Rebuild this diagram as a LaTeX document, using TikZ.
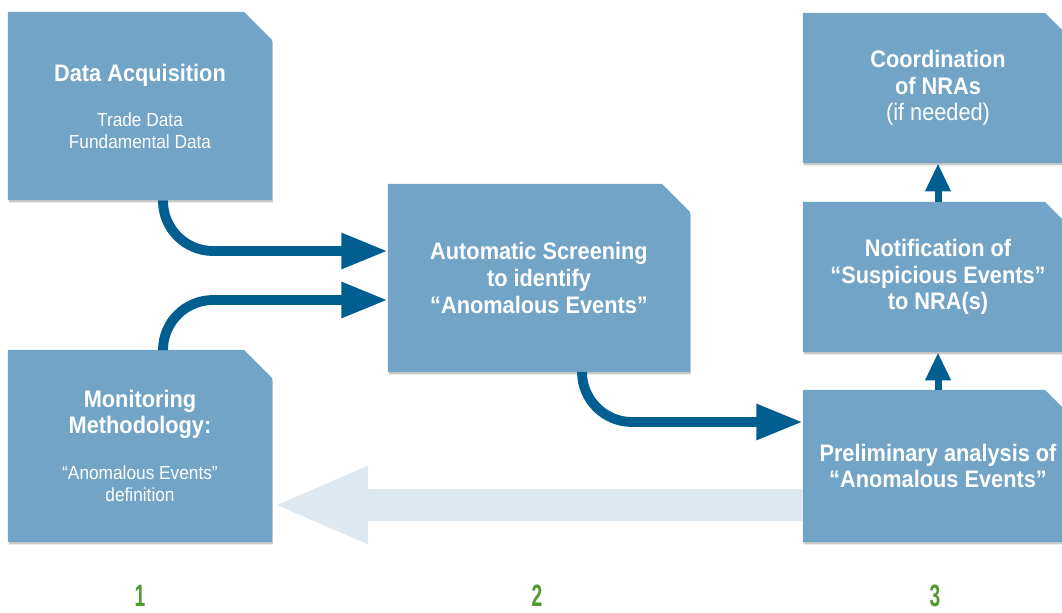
\documentclass[tikz,border=0pt]{standalone}
\usepackage{fontspec}
\setmainfont{Liberation Sans}[FakeStretch=0.91]
\newfontfamily\numfont{Liberation Sans}[FakeStretch=0.62]
\usetikzlibrary{calc}
\usetikzlibrary{shapes.misc}
\usetikzlibrary{shadows}
\usetikzlibrary{arrows.meta}

\definecolor{boxblue}{RGB}{113,164,198}
\definecolor{darkblue}{RGB}{0,94,145}
\definecolor{paleblue}{RGB}{222,232,241}
\definecolor{stepgreen}{RGB}{78,154,46}

\newcommand{\sub}[1]{{\fontsize{13.5}{15}\selectfont\mdseries #1}}

\begin{document}
\begin{tikzpicture}[x=0.025cm, y=-0.025cm,
  box/.style={shape=chamfered rectangle, chamfered rectangle corners=north east,
    chamfered rectangle xsep=0.35cm, chamfered rectangle ysep=0.35cm,
    fill=boxblue, text=white, align=center, inner sep=0pt,
    font=\fontsize{17}{19}\selectfont\bfseries,
    drop shadow={shadow xshift=0.6pt, shadow yshift=-1.6pt, opacity=0.35, fill=black!60}},
  darrow/.style={draw=darkblue, line width=7pt, rounded corners=1.25cm,
    -{Triangle[length=33pt, width=24pt]}},
  uarrow/.style={draw=darkblue, line width=5pt, -{Triangle[length=20pt, width=17pt]}},
  larrow/.style={draw=paleblue, line width=23pt, -{Triangle[length=68pt, width=50pt]}},
  stepnum/.style={text=stepgreen, inner sep=0pt, font=\numfont\fontsize{22}{24}\selectfont\bfseries}]
  \useasboundingbox (0,0) rectangle (1062,612);

  \node [box, minimum width=6.6cm, minimum height=4.7cm] (da) at (140,106)
    {Data Acquisition\\[13pt]\sub{Trade Data}\\[-3.4pt]\sub{Fundamental Data}};
  \node [box, minimum width=6.6cm, minimum height=4.8cm] (mm) at (140,446)
    {Monitoring\\[-1pt]Methodology:\\[14pt]\sub{“Anomalous Events”}\\[-3.4pt]\sub{definition}};
  \node [box, minimum width=7.55cm, minimum height=4.7cm] (as) at (539,278)
    {Automatic Screening\\to identify\\“Anomalous Events”};
  \node [box, minimum width=6.75cm, minimum height=3.75cm] (ca) at (938,88)
    {Coordination\\of NRAs\\{\mdseries (if needed)}};
  \node [box, minimum width=6.75cm, minimum height=3.75cm] (na) at (938,277)
    {Notification of\\“Suspicious Events”\\to NRA(s)};
  \node [box, minimum width=6.75cm, minimum height=3.8cm] (pa) at (938,466)
    {Preliminary analysis of\\“Anomalous Events”};

  \node [stepnum] (n1) at (140,596) {1};
  \node [stepnum] (n2) at (537,596) {2};
  \node [stepnum] (n3) at (935,596) {3};

  \draw [darrow] ($(da.south)+(23,0)$) |- ($(as.west)+(0,-27)$);
  \draw [darrow] ($(mm.north)+(23,0)$) |- ($(as.west)+(0,22)$);
  \draw [darrow] ($(as.south)+(43,0)$) |- ($(pa.west)+(0,-44)$);
  \draw [uarrow] (pa.north) -- (na.south);
  \draw [uarrow] (na.north) -- (ca.south);
  \draw [larrow] ($(pa.west)+(0,39)$) -- ($(mm.east)+(0,59)$);
\end{tikzpicture}
\end{document}
